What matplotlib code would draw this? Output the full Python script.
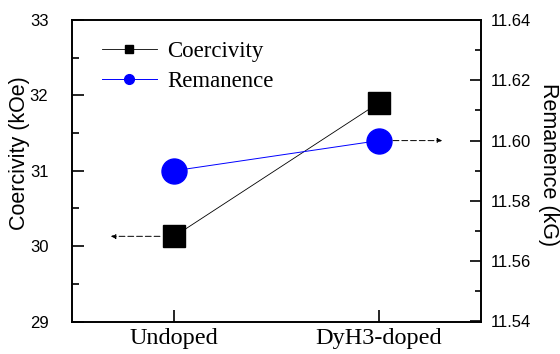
import matplotlib
matplotlib.use("Agg")
import matplotlib.pyplot as plt
from matplotlib.lines import Line2D
from matplotlib.ticker import MultipleLocator, FormatStrFormatter

categories = ["Undoped", "DyH3-doped"]
coercivity = [30.13, 31.9]
remanence = [11.590, 11.600]

fig = plt.figure(figsize=(5.6, 3.54), dpi=100)
ax = fig.add_axes([72/560, 1-321.5/354, (481-72)/560, (321.5-20)/354])
ax2 = ax.twinx()

x = list(range(len(categories)))
ax.plot(x, coercivity, color="black", lw=0.6, marker="s", ms=16.5, mfc="black", mec="black", zorder=3)
ax2.plot(x, remanence, color="blue", lw=0.7, marker="o", ms=18, mfc="blue", mec="blue", zorder=3)

ax.set_xlim(-0.5, 1.5)
ax.set_ylim(29, 33)
ax2.set_ylim(11.54, 11.64)

ax.set_xticks(x)
ax.set_xticklabels(categories, family="Liberation Serif", fontsize=17.5)
ax.yaxis.set_major_locator(MultipleLocator(1))
ax.yaxis.set_minor_locator(MultipleLocator(0.5))
ax2.yaxis.set_major_locator(MultipleLocator(0.02))
ax2.yaxis.set_minor_locator(MultipleLocator(0.01))
ax2.yaxis.set_major_formatter(FormatStrFormatter("%.2f"))

for a in (ax, ax2):
    for lab in a.get_yticklabels():
        lab.set_family("Liberation Sans")
        lab.set_fontsize(12)
    for s in a.spines.values():
        s.set_linewidth(1.2)
ax.tick_params(axis="y", which="major", direction="in", length=8.5, width=1.2, pad=17)
ax.tick_params(axis="y", which="minor", direction="in", length=5, width=1.2)
ax.tick_params(axis="x", which="major", direction="in", length=8.5, width=1.2, pad=5)
ax2.tick_params(axis="y", which="major", direction="in", length=8, width=1.2, pad=7)
ax2.tick_params(axis="y", which="minor", direction="in", length=4.5, width=1.2)

ax.set_ylabel("Coercivity (kOe)", family="Liberation Sans", fontsize=15.5)
ax.yaxis.label.set_va("center")
ax.yaxis.set_label_coords(-0.128, 0.557)
ax2.set_ylabel("Remanence (kG)", family="Liberation Sans", fontsize=15.5, rotation=270)
ax2.yaxis.label.set_va("center")
ax2.yaxis.set_label_coords(1.166, 0.521)

# direction arrows
ax.annotate("", xy=(-0.31, coercivity[0]), xytext=(-0.07, coercivity[0]),
            arrowprops=dict(arrowstyle="-|>", color="black", lw=0.7, linestyle=(0, (6, 3)),
                            mutation_scale=7, shrinkA=0, shrinkB=0))
ax2.annotate("", xy=(1.31, remanence[1]), xytext=(1.07, remanence[1]),
             arrowprops=dict(arrowstyle="-|>", color="black", lw=0.7, linestyle=(0, (6, 3)),
                             mutation_scale=7, shrinkA=0, shrinkB=0))

handles = [
    Line2D([], [], color="black", lw=0.6, marker="s", ms=6, mfc="black", mec="black"),
    Line2D([], [], color="blue", lw=0.7, marker="o", ms=7, mfc="blue", mec="blue"),
]
leg = ax.legend(handles, ["Coercivity", "Remanence"], loc="upper left",
                bbox_to_anchor=(0.022, 1.0), frameon=False,
                prop={"family": "Liberation Serif", "size": 16.5},
                handlelength=2.4, handletextpad=0.45, labelspacing=0.4)

fig.savefig("out.png", dpi=100)
